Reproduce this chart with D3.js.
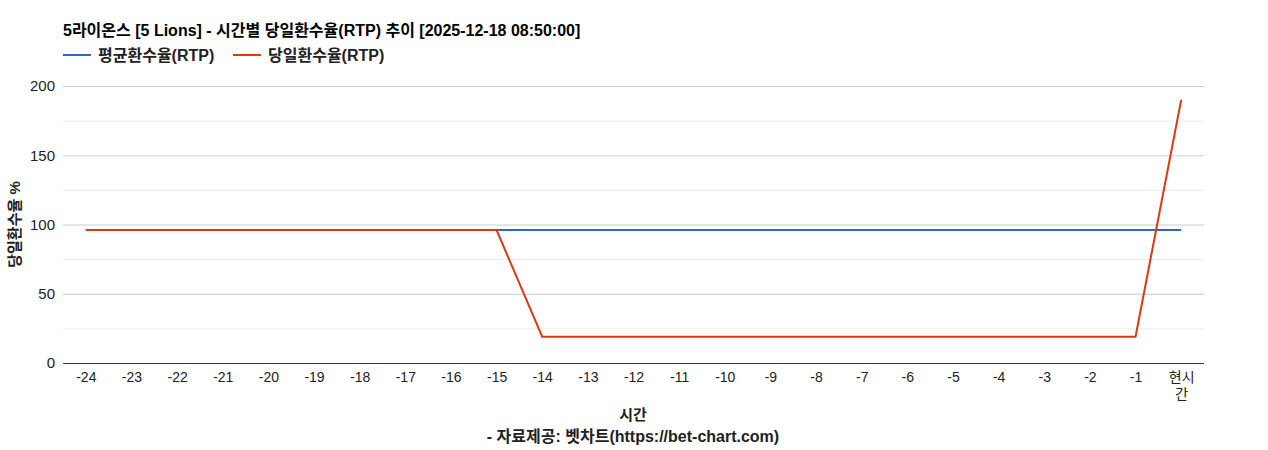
<!DOCTYPE html>
<html>
<head>
<meta charset="utf-8">
<script src="https://cdn.jsdelivr.net/npm/d3@7"></script>
<style>
body { margin:0; background:#fff; }
svg { font-family: Arial, "Liberation Sans", "Noto Sans CJK KR", sans-serif; }
</style>
</head>
<body>
<svg id="chart" width="1268" height="450"></svg>
<script>
var hours = ["-24","-23","-22","-21","-20","-19","-18","-17","-16","-15","-14","-13","-12","-11","-10","-9","-8","-7","-6","-5","-4","-3","-2","-1","현시간"];
var avgRtp = [96,96,96,96,96,96,96,96,96,96,96,96,96,96,96,96,96,96,96,96,96,96,96,96,96];
var dayRtp = [96,96,96,96,96,96,96,96,96,96,19,19,19,19,19,19,19,19,19,19,19,19,19,19,190];
var yTicks = [0,50,100,150,200];
var seriesNames = ["평균환수율(RTP)","당일환수율(RTP)"];
var seriesColors = ["#3366cc","#dc3912"];

var svg = d3.select("#chart");
var plotL = 63, plotR = 1204, plotT = 86, plotB = 363;

var x = d3.scalePoint().domain(hours).range([plotL, plotR]).padding(0.5);
var y = d3.scaleLinear().domain([0,200]).range([plotB, plotT]);

// minor grid
var minor = d3.range(25, 200, 50);
svg.append('g').selectAll('line').data(minor).enter().append('line')
    .attr('x1', plotL).attr('x2', plotR)
    .attr('y1', function(d){ return y(d) + 0.5; }).attr('y2', function(d){ return y(d) + 0.5; })
    .attr('stroke', '#ebebeb').attr('stroke-width', 1);

// major grid
svg.append('g').selectAll('line').data(yTicks.slice(1)).enter().append('line')
    .attr('x1', plotL).attr('x2', plotR)
    .attr('y1', function(d){ return y(d) + 0.5; }).attr('y2', function(d){ return y(d) + 0.5; })
    .attr('stroke', '#cccccc').attr('stroke-width', 1);

// y labels
var yAxis = svg.append('g').attr('transform', 'translate(' + plotL + ',0)')
    .call(d3.axisLeft(y).tickValues(yTicks).tickSize(0).tickPadding(8))
    .attr('font-family', null).attr('font-size', null);
yAxis.select('.domain').remove();
yAxis.selectAll('text').style('font-size', '15px').attr('fill', '#222');

// baseline
svg.append('line').attr('x1', plotL).attr('x2', plotR)
    .attr('y1', y(0) + 0.5).attr('y2', y(0) + 0.5)
    .attr('stroke', '#333').attr('stroke-width', 1);

// x labels
var xAxis = svg.append('g').attr('transform', 'translate(0,' + plotB + ')')
    .call(d3.axisBottom(x).tickSize(0).tickPadding(9))
    .attr('font-family', null).attr('font-size', null);
xAxis.select('.domain').remove();
xAxis.selectAll('text').style('font-size', '14px').attr('fill', '#222')
    .each(function(d){
        if (d === "현시간") {
            var t = d3.select(this).text(null);
            t.append('tspan').attr('x', 0).text('현시');
            t.append('tspan').attr('x', 0).attr('dy', '1.25em').text('간');
        }
    });

// lines
var line = d3.line().x(function(d,i){ return x(hours[i]); }).y(function(d){ return y(d); });
[avgRtp, dayRtp].forEach(function(s, i){
    svg.append('path').datum(s)
        .attr('d', line)
        .attr('fill', 'none')
        .attr('stroke', seriesColors[i])
        .attr('stroke-width', 2);
});

// title
svg.append('text').attr('x', 63).attr('y', 36)
    .attr('font-size', 16).attr('font-weight', 'bold').attr('fill', '#000')
    .text('5라이온스 [5 Lions] - 시간별 당일환수율(RTP) 추이 [2025-12-18 08:50:00]');

// legend
var legendX = [63, 233];
seriesNames.forEach(function(n, i){
    var g = svg.append('g').attr('transform', 'translate(' + legendX[i] + ',55)');
    g.append('line').attr('x1', 0).attr('x2', 28).attr('y1', 0).attr('y2', 0)
        .attr('stroke', seriesColors[i]).attr('stroke-width', 2);
    g.append('text').attr('x', 35).attr('y', 5.5)
        .attr('font-size', 16).attr('font-weight', 'bold').attr('fill', '#222')
        .text(n);
});

// y title
svg.append('text')
    .attr('transform', 'translate(20,' + ((plotT + plotB) / 2) + ') rotate(-90)')
    .attr('text-anchor', 'middle')
    .attr('font-size', 15).attr('font-weight', 'bold').attr('fill', '#222')
    .text('당일환수율 %');

// x title
svg.append('text').attr('x', 633).attr('y', 420).attr('text-anchor', 'middle')
    .attr('font-size', 15).attr('font-weight', 'bold').attr('fill', '#222')
    .text('시간');
svg.append('text').attr('x', 633).attr('y', 442).attr('text-anchor', 'middle')
    .attr('font-size', 16).attr('font-weight', 'bold').attr('fill', '#222')
    .text('- 자료제공: 벳차트(https://bet-chart.com)');
</script>
</body>
</html>
